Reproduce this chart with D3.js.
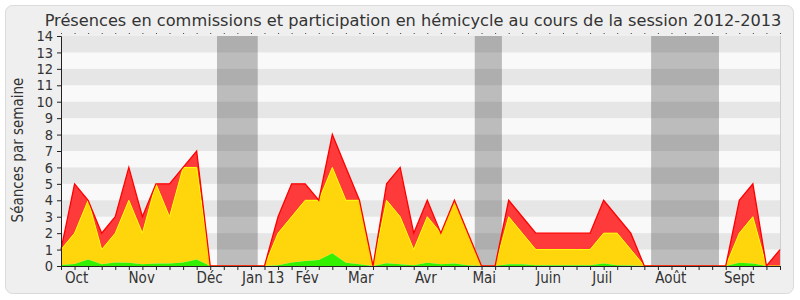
<!DOCTYPE html>
<html>
<head>
<meta charset="utf-8">
<script src="https://cdn.jsdelivr.net/npm/d3@7"></script>
<style>
  body { margin: 0; background: #fff; }
  svg { display: block; font-family: "DejaVu Sans Condensed", "DejaVu Sans", sans-serif; }
</style>
</head>
<body>
<div id="chart"></div>
<script>
// one value per week, from the first week of October 2012
const commission = [0.06,0.12,0.4,0.1,0.22,0.2,0.1,0.15,0.15,0.22,0.4,0,0,0,0,0,0.05,0.22,0.3,0.37,0.77,0.2,0.1,0,0.16,0.1,0.05,0.2,0.1,0.15,0.05,0,0,0.1,0.1,0.05,0.05,0.05,0.05,0.05,0.15,0.05,0.03,0,0,0,0,0,0,0,0.2,0.15,0,0];
const hemicycle  = [1,2,4,1,2,4,2,5,3,6,6,0,0,0,0,0,2,3,4,4,6,4,4,0,4,3,1,3,2,4,2,0,0,3,2,1,1,1,1,1,2,2,1,0,0,0,0,0,0,0,2,3,0,0];
const presence   = [1,5,4,2,3,6,3,5,5,6,7,0,0,0,0,0,3,5,5,4,8,6,4,0,5,6,2,4,2,4,2,0,0,4,3,2,2,2,2,2,4,3,2,0,0,0,0,0,0,0,4,5,0,1];

const vacances = [[11.5, 14.5], [30.5, 32.5], [43.5, 48.5]];
const monthLabels = ['Oct', 'Nov', 'Déc', 'Jan 13', 'Fév', 'Mar', 'Avr', 'Mai', 'Juin', 'Juil', 'Août', 'Sept'];
const monthWeeks  = [1.15, 5.95, 10.95, 14.9, 18.15, 22.1, 26.9, 31.2, 35.95, 39.9, 44.95, 50.0];
const yTicks = d3.range(0, 15);

const W = 800, H = 300;
const margin = {top: 36, right: 20, bottom: 34, left: 61};

const svg = d3.select('#chart').append('svg')
  .attr('width', W)
  .attr('height', H);

svg.append('rect')
  .attr('x', 5.5).attr('y', 5.5)
  .attr('width', 788).attr('height', 288)
  .attr('rx', 7)
  .attr('fill', '#efefef')
  .attr('stroke', '#dadada');

const weeks = presence.map((d, i) => i);

const x = d3.scaleLinear()
  .domain([0, weeks.length - 1])
  .range([margin.left, W - margin.right]);

const y = d3.scaleLinear()
  .domain([0, 14])
  .range([H - margin.bottom, margin.top]);

// plot background + holidays + stripes
svg.append('rect')
  .attr('x', x(0)).attr('y', y(14))
  .attr('width', x(weeks.length - 1) - x(0))
  .attr('height', y(0) - y(14))
  .attr('fill', '#f9f9f9');

svg.append('g').selectAll('rect')
  .data(vacances)
  .join('rect')
    .attr('x', d => x(d[0]))
    .attr('y', y(14))
    .attr('width', d => x(d[1]) - x(d[0]))
    .attr('height', y(0) - y(14))
    .attr('fill', '#bcbcbc');

svg.append('g').selectAll('rect')
  .data(yTicks.filter(v => v % 2 === 1))
  .join('rect')
    .attr('x', x(0))
    .attr('y', d => y(d + 1))
    .attr('width', x(weeks.length - 1) - x(0))
    .attr('height', d => y(d) - y(d + 1))
    .attr('fill', 'rgba(0,0,0,0.075)');

svg.append('line')
  .attr('x1', x(weeks.length - 1) + 0.5).attr('x2', x(weeks.length - 1) + 0.5)
  .attr('y1', y(14)).attr('y2', y(0))
  .attr('stroke', '#cfcfcf');

// stacked areas
const areaBetween = (lo, hi) => d3.area()
  .x(i => x(i))
  .y0(i => y(lo ? lo[i] : 0))
  .y1(i => y(hi[i]));

svg.append('path').datum(weeks)
  .attr('d', areaBetween(hemicycle, presence))
  .attr('fill', '#ff3a3a');
svg.append('path').datum(weeks)
  .attr('d', areaBetween(commission, hemicycle))
  .attr('fill', '#ffd60c');
svg.append('path').datum(weeks)
  .attr('d', areaBetween(null, commission))
  .attr('fill', '#33f000');

const lineOf = arr => d3.line().x(i => x(i)).y(i => y(arr[i]));

svg.append('path').datum(weeks)
  .attr('d', lineOf(hemicycle))
  .attr('fill', 'none')
  .attr('stroke', '#ffff00')
  .attr('stroke-width', 1);
svg.append('path').datum(weeks)
  .attr('d', lineOf(presence))
  .attr('fill', 'none')
  .attr('stroke', '#ff0000')
  .attr('stroke-width', 1.3);

// axes
const xAxis = svg.append('g')
  .attr('transform', `translate(0, ${y(0)})`)
  .call(d3.axisBottom(x).tickValues(weeks).tickSize(4).tickFormat(''));
xAxis.select('.domain').attr('stroke', '#222');
xAxis.selectAll('.tick line').attr('stroke', '#222');

svg.append('g')
  .attr('transform', `translate(0, ${y(14) - 2})`)
  .call(d3.axisTop(x).tickValues(weeks).tickSize(1).tickFormat(''))
  .call(g => g.select('.domain').remove())
  .selectAll('.tick line').attr('stroke', '#444');

svg.append('g').selectAll('text')
  .data(monthLabels)
  .join('text')
    .attr('x', (d, i) => x(monthWeeks[i]))
    .attr('y', 283)
    .attr('text-anchor', 'middle')
    .attr('font-size', 15)
    .attr('fill', '#333')
    .text(d => d);

const yAxis = svg.append('g')
  .attr('transform', `translate(${x(0)}, 0)`)
  .call(d3.axisLeft(y).tickValues(yTicks).tickSize(4).tickPadding(4).tickFormat(d3.format('d')));
yAxis.select('.domain').attr('stroke', '#222');
yAxis.selectAll('.tick line').attr('stroke', '#222');
yAxis.selectAll('.tick text')
  .attr('font-size', 14.5)
  .attr('font-family', '"DejaVu Sans Condensed", "DejaVu Sans", sans-serif')
  .attr('fill', '#333');

svg.append('text')
  .attr('transform', `translate(23, 150) rotate(-90)`)
  .attr('text-anchor', 'middle')
  .attr('font-size', 15)
  .attr('fill', '#333')
  .text('Séances par semaine');

svg.append('text')
  .attr('x', 413)
  .attr('y', 25.5)
  .attr('text-anchor', 'middle')
  .attr('font-size', 16.2)
  .attr('font-family', '"DejaVu Sans", sans-serif')
  .attr('fill', '#333')
  .text('Présences en commissions et participation en hémicycle au cours de la session 2012-2013');
</script>
</body>
</html>
